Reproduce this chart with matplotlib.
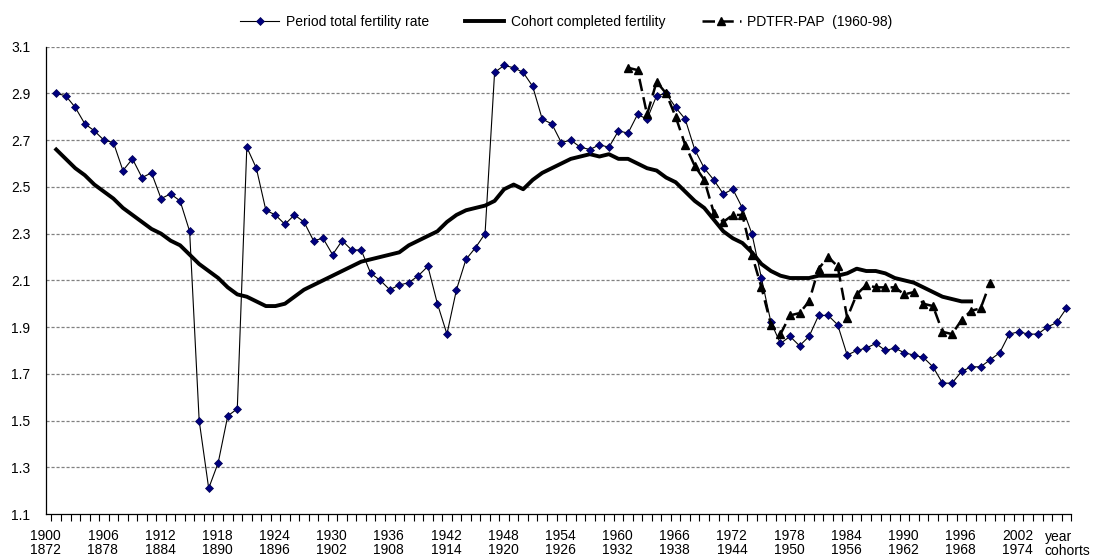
import numpy as np
import matplotlib
matplotlib.use("Agg")
import matplotlib.pyplot as plt

plt.rcParams['font.family'] = ['Liberation Sans', 'DejaVu Sans']

# period total fertility rate, 1900-2006
period_years = list(range(1900, 2007))
period_tfr = [2.90, 2.89, 2.84, 2.77, 2.74, 2.70, 2.69, 2.57, 2.62, 2.54,
              2.56, 2.45, 2.47, 2.44, 2.31, 1.50, 1.21, 1.32, 1.52, 1.55,
              2.67, 2.58, 2.40, 2.38, 2.34, 2.38, 2.35, 2.27, 2.28, 2.21,
              2.27, 2.23, 2.23, 2.13, 2.10, 2.06, 2.08, 2.09, 2.12, 2.16,
              2.00, 1.87, 2.06, 2.19, 2.24, 2.30, 2.99, 3.02, 3.01, 2.99,
              2.93, 2.79, 2.77, 2.69, 2.70, 2.67, 2.66, 2.68, 2.67, 2.74,
              2.73, 2.81, 2.79, 2.89, 2.90, 2.84, 2.79, 2.66, 2.58, 2.53,
              2.47, 2.49, 2.41, 2.30, 2.11, 1.92, 1.83, 1.86, 1.82, 1.86,
              1.95, 1.95, 1.91, 1.78, 1.80, 1.81, 1.83, 1.80, 1.81, 1.79,
              1.78, 1.77, 1.73, 1.66, 1.66, 1.71, 1.73, 1.73, 1.76, 1.79,
              1.87, 1.88, 1.87, 1.87, 1.90, 1.92, 1.98]

# cohort completed fertility, plotted at cohort + 28 (1900-1996)
cohort_years = list(range(1900, 1997))
cohort_cf = [2.66, 2.62, 2.58, 2.55, 2.51, 2.48, 2.45, 2.41, 2.38, 2.35,
             2.32, 2.30, 2.27, 2.25, 2.21, 2.17, 2.14, 2.11, 2.07, 2.04,
             2.03, 2.01, 1.99, 1.99, 2.00, 2.03, 2.06, 2.08, 2.10, 2.12,
             2.14, 2.16, 2.18, 2.19, 2.20, 2.21, 2.22, 2.25, 2.27, 2.29,
             2.31, 2.35, 2.38, 2.40, 2.41, 2.42, 2.44, 2.49, 2.51, 2.49,
             2.53, 2.56, 2.58, 2.60, 2.62, 2.63, 2.64, 2.63, 2.64, 2.62,
             2.62, 2.60, 2.58, 2.57, 2.54, 2.52, 2.48, 2.44, 2.41, 2.36,
             2.31, 2.28, 2.26, 2.22, 2.17, 2.14, 2.12, 2.11, 2.11, 2.11,
             2.12, 2.12, 2.12, 2.13, 2.15, 2.14, 2.14, 2.13, 2.11, 2.10,
             2.09, 2.07, 2.05, 2.03, 2.02, 2.01, 2.01]

# PDTFR-PAP, 1960-1998
pap_years = list(range(1960, 1999))
pap_tfr = [3.01, 3.00, 2.81, 2.95, 2.90, 2.80, 2.68, 2.59, 2.53, 2.39,
           2.35, 2.38, 2.38, 2.21, 2.07, 1.91, 1.87, 1.95, 1.96, 2.01,
           2.15, 2.20, 2.16, 1.94, 2.04, 2.08, 2.07, 2.07, 2.07, 2.04,
           2.05, 2.00, 1.99, 1.88, 1.87, 1.93, 1.97, 1.98, 2.09]

label_years = list(range(1900, 2003, 6))
label_text = [f"{y}\n{y - 28}" for y in label_years]
y_ticks = [1.1, 1.3, 1.5, 1.7, 1.9, 2.1, 2.3, 2.5, 2.7, 2.9, 3.1]

fig = plt.figure(figsize=(11.02, 5.56), dpi=100)
ax = fig.add_axes([0.0415, 0.0755, 0.9305, 0.8405])

# grid
for v in y_ticks[1:]:
    ax.axhline(v, color='#808080', lw=0.9, ls=(0, (2.5, 1.5)), zorder=0)

ax.plot(period_years, period_tfr, color='black', lw=0.8, marker='D',
        markersize=4.2, markerfacecolor='#000080', markeredgecolor='#000050',
        markeredgewidth=0.5, label='Period total fertility rate', zorder=3)
ax.plot(cohort_years, cohort_cf, color='black', lw=2.8,
        label='Cohort completed fertility', zorder=2)
ax.plot(pap_years, pap_tfr, color='black', lw=1.8, ls=(0, (5, 2.5)),
        marker='^', markersize=6, label='PDTFR-PAP  (1960-98)', zorder=4)

ax.set_xlim(1899.5, 2006.5)
ax.set_ylim(1.1, 3.1)
ax.set_yticks(y_ticks)
ax.set_yticklabels([f"{v:.1f}" for v in y_ticks])

ax.set_xticks([y - 1.1 for y in label_years])
ax.set_xticklabels(label_text, linespacing=1.0)
ax.set_xticks(np.arange(1899.5, 2007, 1), minor=True)
ax.tick_params(axis='x', which='major', length=0, pad=10.5, labelsize=10)
ax.tick_params(axis='x', which='minor', length=5, width=0.8, direction='out')
ax.tick_params(axis='y', length=0, pad=11, labelsize=10)

ax.text(2003.7, -0.034, "year\ncohorts", transform=ax.get_xaxis_transform(),
        ha='left', va='top', fontsize=10, linespacing=1.0, clip_on=False)

for s in ['top', 'right']:
    ax.spines[s].set_visible(False)
ax.spines['left'].set_linewidth(0.9)
ax.spines['bottom'].set_linewidth(0.9)

fig.legend(loc='center', bbox_to_anchor=(0.514, 0.96), ncol=3, frameon=False,
           fontsize=10, handlelength=2.8, handletextpad=0.5, columnspacing=2.6)

fig.savefig('out.png', dpi=100)
